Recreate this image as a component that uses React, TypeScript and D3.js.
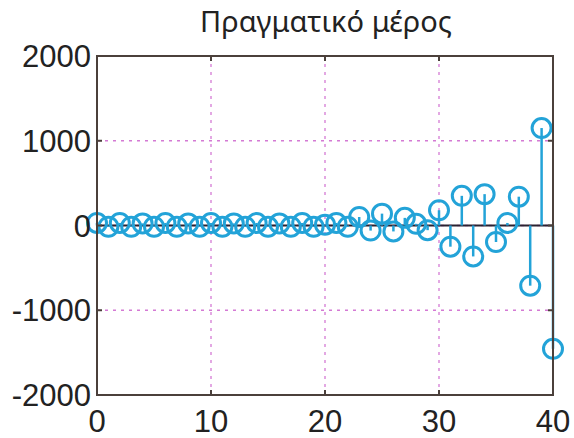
import React from "react";
import * as d3 from "d3";

const title = "Πραγματικό μέρος";
const xTicks = [0, 10, 20, 30, 40];
const yTicks = [-2000, -1000, 0, 1000, 2000];
const nValues = [
  0, 1, 2, 3, 4, 5, 6, 7, 8, 9, 10, 11, 12, 13, 14, 15, 16, 17, 18, 19, 20,
  21, 22, 23, 24, 25, 26, 27, 28, 29, 30, 31, 32, 33, 34, 35, 36, 37, 38, 39, 40,
];
const realValues = [
  30, -15, 30, -15, 25, -15, 30, -15, 25, -15, 30, -15, 25, -15, 30, -15, 25,
  -15, 30, -15, 10, 30, -15, 100, -60, 140, -70, 90, 20, -55, 180, -250, 350,
  -365, 370, -195, 30, 340, -710, 1150, -1455,
];

const W = 574;
const H = 438;
const L = 97;
const R = 553;
const T = 56;
const B = 395;

export default function App() {
  const x = d3.scaleLinear().domain([0, 40]).range([L, R]);
  const y = d3.scaleLinear().domain([-2000, 2000]).range([B, T]);
  const blue = "#23a3d8";
  const axisColor = "#4b403b";
  const gridColor = "#d47ad4";
  const font = "'Liberation Sans', Arial, sans-serif";
  return (
    <svg
      width={W}
      height={H}
      style={{ position: "absolute", left: 0, top: 0, background: "#fff" }}
    >
      {/* grid */}
      {xTicks.slice(1, -1).map((t) => (
        <line
          key={"gx" + t}
          x1={x(t)}
          x2={x(t)}
          y1={T}
          y2={B}
          stroke={gridColor}
          strokeWidth={1.3}
          strokeDasharray="3,5"
        />
      ))}
      {yTicks.slice(1, -1).map((t) => (
        <line
          key={"gy" + t}
          x1={L}
          x2={R}
          y1={y(t)}
          y2={y(t)}
          stroke={gridColor}
          strokeWidth={1.3}
          strokeDasharray="3,5"
        />
      ))}
      {/* baseline */}
      <line x1={x(0)} x2={x(40)} y1={y(0)} y2={y(0)} stroke="#2a2230" strokeWidth={2} />
      {/* stems */}
      {nValues.map((n, i) => (
        <line
          key={"s" + n}
          x1={x(n)}
          x2={x(n)}
          y1={y(0)}
          y2={y(realValues[i])}
          stroke={blue}
          strokeWidth={2.5}
        />
      ))}
      {nValues.map((n, i) => (
        <circle
          key={"c" + n}
          cx={x(n)}
          cy={y(realValues[i])}
          r={9.5}
          fill="none"
          stroke={blue}
          strokeWidth={3}
        />
      ))}
      {/* axes box */}
      <rect
        x={L}
        y={T}
        width={R - L}
        height={B - T}
        fill="none"
        stroke={axisColor}
        strokeWidth={2}
      />
      {/* ticks */}
      {xTicks.map((t) => (
        <g key={"tx" + t}>
          <line x1={x(t)} x2={x(t)} y1={B} y2={B - 5} stroke={axisColor} strokeWidth={2} />
          <line x1={x(t)} x2={x(t)} y1={T} y2={T + 5} stroke={axisColor} strokeWidth={2} />
          <text
            x={x(t)}
            y={B + 37}
            textAnchor="middle"
            fontFamily={font}
            fontSize={31}
            fill="#222"
          >
            {t}
          </text>
        </g>
      ))}
      {yTicks.map((t) => (
        <g key={"ty" + t}>
          <line x1={L} x2={L + 5} y1={y(t)} y2={y(t)} stroke={axisColor} strokeWidth={2} />
          <line x1={R} x2={R - 5} y1={y(t)} y2={y(t)} stroke={axisColor} strokeWidth={2} />
          <text
            x={L - 6}
            y={y(t) + 11}
            textAnchor="end"
            fontFamily={font}
            fontSize={31}
            fill="#222"
          >
            {t}
          </text>
        </g>
      ))}
      <text
        x={326}
        y={32}
        textAnchor="middle"
        fontFamily="'Noto Sans', 'Open Sans', sans-serif"
        fontSize={29}
        fill="#222"
      >
        {title}
      </text>
    </svg>
  );
}
